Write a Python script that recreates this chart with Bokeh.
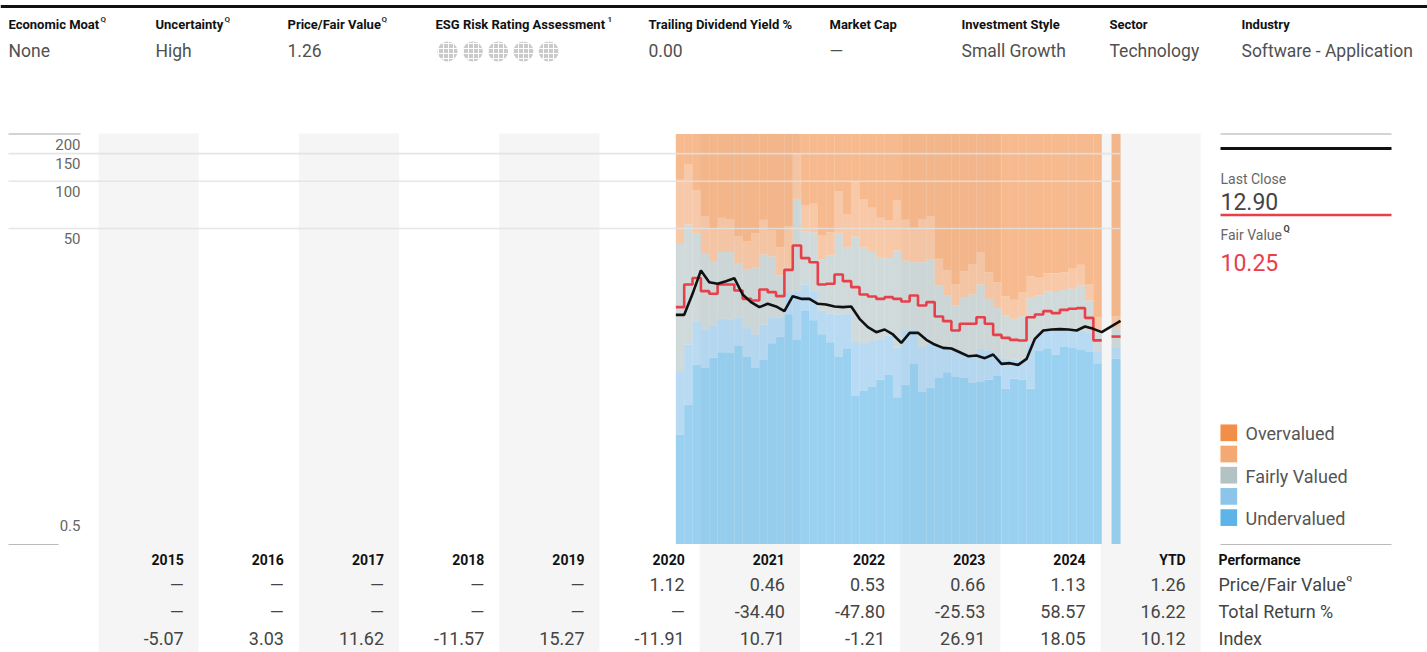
import math
import pandas as pd
from bokeh.plotting import figure
from bokeh.models import Range1d, LinearScale
from bokeh.core.properties import value
from bokeh.embed import file_html
from bokeh.resources import INLINE

# ---------------------------------------------------------------- data
header_labels = ["Economic Moat", "Uncertainty", "Price/Fair Value", "ESG Risk Rating Assessment",
                 "Trailing Dividend Yield %", "Market Cap", "Investment Style", "Sector", "Industry"]
header_marks = ["Q", "Q", "Q", "1", "", "", "", "", ""]
header_values = ["None", "High", "1.26", "", "0.00", "\u2014", "Small Growth", "Technology",
                 "Software - Application"]
esg_globe_count = 5

table_years = ["2015", "2016", "2017", "2018", "2019", "2020", "2021", "2022", "2023", "2024", "YTD"]
row_price_fair = ["\u2014", "\u2014", "\u2014", "\u2014", "\u2014", "1.12", "0.46", "0.53", "0.66", "1.13", "1.26"]
row_total_return = ["\u2014", "\u2014", "\u2014", "\u2014", "\u2014", "\u2014", "-34.40", "-47.80", "-25.53", "58.57", "16.22"]
row_index = ["-5.07", "3.03", "11.62", "-11.57", "15.27", "-11.91", "10.71", "-1.21", "26.91", "18.05", "10.12"]
row_labels = ["Price/Fair Value", "Total Return %", "Index"]

first_month = "2020-10"
last_boundary = "2025-01"

# closing price at each month boundary (Oct 2020 ... Jan 2025)
price = [14.10, 14.10, 19.19, 27.01, 22.77, 22.22, 23.10, 24.14, 19.00, 16.98,
         15.78, 16.57, 15.94, 14.88, 18.54, 17.83, 17.83, 16.57, 16.41, 15.94,
         15.78, 15.94, 13.30, 11.77, 10.94, 11.37, 10.57, 9.35, 10.83, 10.83,
         9.77, 9.12, 8.69, 8.61, 8.15, 7.69, 7.77, 7.47, 7.88, 6.87,
         6.94, 6.77, 7.39, 9.92, 11.20, 11.37, 11.43, 11.37, 11.20, 11.88,
         11.48, 10.94]
# monthly fair value (Oct 2020 ... Dec 2024)
fair_value = [15.78, 22.00, 24.20, 19.95, 19.19, 22.00, 22.00, 20.15, 17.83, 17.40,
              20.45, 19.66, 18.54, 27.28, 38.98, 32.37, 30.52, 22.00, 22.22, 25.47,
              23.10, 21.16, 19.00, 18.45, 17.83, 18.27, 17.83, 17.15, 18.72, 16.17,
              16.98, 13.76, 12.85, 11.20, 12.36, 12.36, 13.62, 12.36, 10.51, 10.06,
              9.77, 9.68, 13.62, 14.17, 14.88, 14.45, 15.17, 15.40, 15.55, 13.49,
              9.70]
# valuation band boundaries (monthly)
band_under_top = [2.44, 3.79, 6.81, 6.48, 7.50, 8.15, 8.08, 8.99, 7.65, 6.48,
                  7.29, 9.30, 10.2, 14.2, 9.77, 14.9, 13.0, 10.6, 9.44, 7.65,
                  8.56, 4.32, 4.65, 4.93, 5.43, 5.88, 4.21, 5.08, 6.87, 4.54,
                  4.83, 5.60, 6.08, 5.71, 5.60, 5.18, 5.33, 5.43, 5.79, 4.76,
                  5.51, 5.43, 4.76, 8.36, 8.56, 7.88, 8.86, 8.69, 8.44, 8.28,
                  6.94]
band_lightblue_top = [6.17, 9.12, 12.8, 11.3, 12.1, 13.3, 13.1, 13.5, 11.6, 10.6,
                      12.2, 13.6, 13.6, 19.4, 19.7, 22.0, 19.7, 15.0, 14.4, 14.2,
                      14.3, 9.44, 9.30, 9.58, 9.77, 10.4, 8.69, 11.3, 11.3, 8.78,
                      9.21, 8.78, 8.56, 8.36, 8.15, 7.77, 8.56, 8.36, 7.88, 7.39,
                      7.29, 7.22, 9.21, 10.9, 11.2, 11.3, 11.2, 11.3, 11.2, 10.9,
                      8.28]
band_fair_top = [39.9, 53.0, 46.3, 34.5, 31.0, 35.5, 35.4, 29.8, 27.3, 28.4,
                 34.2, 33.2, 25.1, 28.4, 77.3, 48.1, 47.4, 31.6, 33.7, 46.3,
                 37.7, 44.5, 37.7, 35.9, 32.9, 32.5, 36.2, 31.3, 30.5, 30.5,
                 31.6, 21.7, 18.7, 16.2, 18.3, 19.0, 22.0, 17.8, 15.6, 14.0,
                 13.3, 13.8, 18.3, 18.7, 19.9, 19.7, 20.3, 20.7, 21.7, 17.4,
                 11.3]
band_lightorange_top = [102.1, 127.9, 87.3, 59.6, 49.8, 58.5, 57.6, 44.5, 41.5, 46.7,
                        56.8, 48.6, 38.0, 51.5, 149.5, 70.1, 71.8, 45.1, 47.4, 86.1,
                        61.4, 98.7, 76.5, 67.7, 58.5, 56.2, 75.4, 56.8, 50.5, 57.6,
                        59.6, 32.1, 27.0, 22.2, 26.8, 29.5, 35.4, 26.4, 22.8, 18.5,
                        17.6, 19.7, 24.7, 24.5, 26.0, 26.0, 26.4, 27.7, 29.4, 22.2,
                        13.6]
# year-to-date values
ytd_bands = [7.39, 8.78, 11.8, 13.8]
last_close = 12.90
fair_value_now = 10.25

chart_min, chart_max = 0.49, 200
y_ticks = [200, 150, 100, 50, 0.5]
y_tick_labels = ["200", "150", "100", "50", "0.5"]
legend_labels = ["Overvalued", "", "Fairly Valued", "", "Undervalued"]

# ---------------------------------------------------------------- style / layout
FONT = "Roboto"
band_colors = ["#5DB4E6", "#8CC4EA", "#B3C3C4", "#F4A872", "#F28E48"]  # bottom -> top
BAND_ALPHA = 0.62
RED = "#E8404A"
W, H = 1427, 652
PAGE_TOP, PAGE_BOTTOM = 0, 652
PAGE_LEFT, PAGE_RIGHT = 0, 1427
COL0_PX, COL_W = 98.0, 100.2        # page x of 2015 column, width of a year column
Y200_PX, PX_PER_DEC = 133.5, 157.0  # page y of 200 line, pixels per decade
YTD_X0, YTD_X1 = 2025.11, 2025.20
MONTH_SHIFT = 0.012

x_start = 2015 - (COL0_PX - PAGE_LEFT) / COL_W
x_end = 2015 + (PAGE_RIGHT - COL0_PX) / COL_W
y_end = 10 ** (math.log10(200) + (Y200_PX - PAGE_TOP) / PX_PER_DEC)
y_start = 10 ** (math.log10(200) - (PAGE_BOTTOM - Y200_PX) / PX_PER_DEC)

p = figure(width=W, height=H, x_range=Range1d(x_start, x_end), y_range=Range1d(y_start, y_end),
           y_axis_type="log", x_axis_location=None, y_axis_location=None,
           output_backend="svg", toolbar_location=None, min_border=0)
p.grid.visible = False
p.outline_line_color = None
p.background_fill_color = "white"
p.border_fill_color = "white"
p.extra_x_ranges = {"px": Range1d(PAGE_LEFT, PAGE_RIGHT)}
p.extra_y_ranges = {"px": Range1d(PAGE_BOTTOM, PAGE_TOP)}
p.extra_x_scales = {"px": LinearScale()}
p.extra_y_scales = {"px": LinearScale()}
PX = dict(x_range_name="px", y_range_name="px")

def txt(x, y, t, size, color="#444444", align="left", bold=False, baseline="middle", **kw):
    p.text(x=x, y=y, text=t, text_font=value(FONT), text_font_size=size, text_color=color,
           text_align=align, text_baseline=baseline, text_font_style="bold" if bold else "normal", **kw)

# ---------------- header
p.segment(x0=[0], x1=[PAGE_RIGHT], y0=[6], y1=[6], line_color="#111111", line_width=3, **PX)
hx = [8, 155, 287, 435, 648, 829, 961, 1109, 1241]
txt(hx, [24] * len(hx), header_labels, "13px", color="#111111", bold=True, **PX)
mark_x = [100, 224, 381, 607]
txt(mark_x, [18.5] * 4, [m for m in header_marks if m], "8px", color="#333333", bold=True, **PX)
txt(hx, [50] * len(hx), header_values, "17.5px", color="#505050", **PX)
gx = [447 + 25.3 * i for i in range(esg_globe_count)]
p.scatter(x=gx, y=[51] * esg_globe_count, size=20, marker="circle", fill_color="#CACACA",
          line_color=None, hatch_pattern="+", hatch_color="white", hatch_scale=5, hatch_weight=1, **PX)

# ---------------- year column backgrounds
years_num = [2015 + i for i in range(len(table_years))]
gy = [y for i, y in enumerate(years_num) if i % 2 == 0]
p.quad(left=gy, right=[y + 1 for y in gy], bottom=[PAGE_BOTTOM] * len(gy), top=[Y200_PX - 0.5] * len(gy),
       fill_color="#F5F5F5", line_color=None, y_range_name="px")

# ---------------- valuation bands
months = pd.period_range(first_month, last_boundary, freq="M")
mx = [m.year + (m.month - 1) / 12 + MONTH_SHIFT for m in months]
lefts = mx[:-1] + [YTD_X0]
rights = mx[1:] + [YTD_X1]
bounds = [band_under_top + [ytd_bands[0]], band_lightblue_top + [ytd_bands[1]],
          band_fair_top + [ytd_bands[2]], band_lightorange_top + [ytd_bands[3]]]
n = len(lefts)
levels = [[chart_min] * n] + bounds + [[chart_max] * n]
for i, c in enumerate(band_colors):
    p.quad(left=lefts, right=rights, bottom=levels[i], top=levels[i + 1],
           fill_color=c, fill_alpha=BAND_ALPHA, line_color=None)

# ---------------- grid lines & y labels
grid_vals = [v for v in y_ticks if 1 < v < 200]
p.segment(x0=[8] * len(grid_vals), x1=[1120] * len(grid_vals), y0=grid_vals, y1=grid_vals,
          line_color="#E2E2E2", line_alpha=0.85, line_width=1.6, x_range_name="px")
p.segment(x0=[8], x1=[80], y0=[200], y1=[200], line_color="#A8A8A8", line_width=1, x_range_name="px")
offs = [10 if v > 1 else -17 for v in y_ticks]
for v, lab, o in zip(y_ticks, y_tick_labels, offs):
    txt([80], [v], [lab], "15px", color="#666666", align="right", y_offset=o, x_range_name="px")
p.segment(x0=[8], x1=[58], y0=[544], y1=[544], line_color="#BBBBBB", line_width=1.2, **PX)

# ---------------- fair value (step) and price
sx, sy = [], []
for k, fv in enumerate(fair_value):
    sx += [mx[k], mx[k + 1]]
    sy += [fv, fv]
p.line(sx, sy, line_color=RED, line_width=2.6)
p.line([YTD_X0, YTD_X1], [fair_value_now, fair_value_now], line_color=RED, line_width=2.6)
p.line(mx + [YTD_X1], price + [last_close], line_color="#111111", line_width=2.6)

# ---------------- right panel
RP0, RP1 = 1220, 1391
p.segment(x0=[RP0], x1=[RP1], y0=[133.5], y1=[133.5], line_color="#AAAAAA", line_width=1, **PX)
p.segment(x0=[RP0], x1=[RP1], y0=[148], y1=[148], line_color="#111111", line_width=3, **PX)
txt([RP0], [178], ["Last Close"], "14px", color="#666666", **PX)
txt([RP0], [200.5], [f"{last_close:.2f}"], "23px", color="#444444", **PX)
p.segment(x0=[RP0], x1=[RP1], y0=[214.5], y1=[214.5], line_color=RED, line_width=2.5, **PX)
txt([RP0], [234], ["Fair Value"], "14px", color="#666666", **PX)
txt([1283], [228], ["Q"], "9px", color="#444444", bold=True, **PX)
txt([RP0], [261.5], [f"{fair_value_now:.2f}"], "23px", color=RED, **PX)

legend_colors = band_colors[::-1]
ly = [432.3 + 21.2 * i for i in range(5)]
p.rect(x=[1228.3] * 5, y=ly, width=16.7, height=16.7, fill_color=legend_colors, line_color=None, **PX)
txt([1245] * 5, [v + 1 for v in ly], legend_labels, "18px", color="#555555", **PX)
p.segment(x0=[RP0], x1=[RP1], y0=[544], y1=[544], line_color="#BBBBBB", line_width=1.2, **PX)

# ---------------- table
col_right = [y + 1 for y in years_num]
txt(col_right, [559] * len(col_right), table_years, "14px", color="#111111", align="right", bold=True,
    x_offset=-15, y_range_name="px")
for row, yc in zip([row_price_fair, row_total_return, row_index], [584, 611, 638]):
    txt(col_right, [yc] * len(col_right), row, "18px", color="#444444", align="right",
        x_offset=-15, y_range_name="px")
txt([1218], [559], ["Performance"], "14px", color="#111111", bold=True, **PX)
txt([1218] * 3, [584, 611, 638], row_labels, "18px", color="#444444", **PX)
txt([1346], [578], ["Q"], "8px", color="#444444", bold=True, **PX)

open("out.html", "w").write(file_html(p, INLINE))
